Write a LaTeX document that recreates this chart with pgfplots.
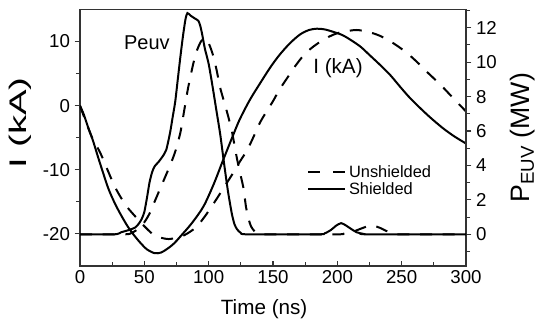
\documentclass[border=0pt]{standalone}
\usepackage{fontspec}
\setmainfont{Liberation Sans}
\usepackage{graphicx}
\usepackage{pgfplots}
\pgfplotsset{compat=1.18}
\begin{document}
\begin{tikzpicture}
\useasboundingbox (-60pt,-42pt) rectangle (342pt,199.5pt);
\pgfplotsset{common/.style={
  width=289.5pt, height=192.4pt, scale only axis,
  xmin=0, xmax=300,
  /pgf/number format/assume math mode=true,
  tick label style={font=\fontsize{14}{16}\selectfont},
  axis line style={black!80, line width=0.9pt},
  every tick/.style={black!80, line width=0.8pt},
  major tick length=4pt, minor tick length=3pt,
}}
\begin{axis}[common,
  ymin=-25, ymax=15,
  xtick={0,50,...,300}, minor xtick={25,75,...,275},
  ytick={-20,-10,0,10}, minor ytick={-15,-5,5},
  xtick pos=bottom, ytick pos=left,
  xtick align=inside, ytick align=outside,
  xlabel={Time (ns)},
  xlabel style={font=\fontsize{15.5}{18}\selectfont, at={(axis description cs:0.477,-0.114)}, anchor=north},
  ylabel={\scalebox{1.6}[1]{I (kA)}},
  ylabel style={font=\fontsize{18}{20}\selectfont, at={(axis description cs:-0.113,0.557)}, anchor=south},
  legend style={at={(0.578,0.415)}, anchor=north west, draw=none, fill=none,
    font=\fontsize{12.3}{14}\selectfont, row sep=-1.5pt},
  legend cell align=left,
  legend image code/.code={\draw[#1] (0pt,0pt) -- (27.75pt,0pt);},
]
\addplot[black, line width=1.5pt, smooth, forget plot] coordinates {
(0,0) (3,-1.4) (6,-3.2) (10,-5.4) (14,-8.0) (18,-10.5) (22,-12.9) (27,-15.2) (32,-17.1) (37,-18.8) (42,-20.2) (47,-21.4) (52,-22.4) (58,-23.0) (63,-22.9) (68,-22.3) (73,-21.5) (78,-20.4) (87,-18.3) (96,-15.7) (104,-12.2) (111,-8.6) (118,-5.1) (124,-2.2) (132,0.9) (140,3.5) (148,6.0) (155,7.9) (163,9.7) (171,11.1) (178,11.8) (184,12.0) (190,11.9) (197,11.5) (204,11.0) (210,10.3) (218,9.2) (225,7.9) (233,6.4) (241,4.8) (249,2.9) (256,1.3) (264,-0.3) (272,-1.8) (282,-3.5) (291,-4.8) (300,-5.9)
};
\addplot[black, line width=1.5pt, dash pattern=on 9pt off 8pt, smooth, forget plot] coordinates {
(0,0) (4,-2.2) (9,-4.8) (13,-6.3) (17,-7.9) (22,-10.3) (27,-12.6) (32,-14.4) (37,-15.9) (44,-17.5) (50,-18.8) (57,-20.1) (63,-20.6) (69,-20.8) (75,-20.6) (81,-20.2) (86,-19.6) (91,-18.8) (98,-17.0) (106,-14.6) (112,-12.7) (119,-10.5) (124,-8.8) (130,-6.9) (135,-4.8) (140,-2.6) (145,-0.9) (150,0.7) (155,2.5) (161,4.3) (167,6.1) (174,7.9) (180,9.0) (187,10.0) (194,10.8) (200,11.3) (207,11.6) (215,11.8) (224,11.5) (233,10.9) (243,9.8) (253,8.4) (262,6.8) (270,5.2) (280,3.3) (289,1.4) (300,-0.9)
};
\addlegendimage{black, line width=1.5pt, dash pattern=on 9pt off 9.5pt}
\addlegendentry{Unshielded}
\addlegendimage{black, line width=1.5pt}
\addlegendentry{Shielded}
\node[font=\fontsize{15}{18}\selectfont] at (axis cs:52,9.8) {Peuv};
\node[font=\fontsize{15.5}{18}\selectfont] at (axis cs:200.5,5.9) {I (kA)};
\end{axis}
\begin{axis}[common,
  axis x line=none, axis y line*=right,
  ymin=-1.84, ymax=13.06,
  ytick={0,2,...,12}, minor ytick={-1,1,3,...,13},
  ytick align=outside,
  ylabel={P$_{\mathrm{EUV}}$ (MW)},
  ylabel style={font=\fontsize{20}{22}\selectfont, at={(axis description cs:1.1026,0.5)}, anchor=north},
]
\addplot[black, line width=1.5pt, smooth, tension=0.4] coordinates {
(0,0) (27,0) (32,0.12) (38,0.25) (43,0.4) (46,0.65) (48,0.9) (50,1.3) (52,2.1) (54,3.0) (56,3.6) (58,3.95) (61,4.2) (64,4.5) (67,4.9) (70,5.9) (72,6.8) (74,7.7) (76,9.0) (78,10.3) (80,11.5) (82,12.5) (83.5,12.85) (86,12.7) (89,12.55) (92,12.4) (93.5,12.1) (95,11.6) (97,10.8) (100,9.9) (103,8.6) (106,7.2) (109,5.8) (112,4.1) (115,2.5) (118,1.2) (120,0.6) (122,0.3) (125,0.08) (130,0) (185,0) (190,0.05) (195,0.25) (199,0.5) (203,0.65) (207,0.5) (211,0.3) (215,0.12) (220,0.03) (225,0) (300,0)
};
\addplot[black, line width=1.5pt, dash pattern=on 9pt off 8pt, smooth, tension=0.4] coordinates {
(0,0) (35,0) (40,0.08) (45,0.3) (50,0.7) (54,1.2) (58,1.9) (62,2.6) (66,3.3) (70,4.0) (74,4.8) (78,5.9) (81,7.2) (84,8.5) (88,9.9) (91,10.7) (94,11.2) (97,11.4) (100,11.1) (103,10.5) (106,9.6) (109,8.5) (112,7.7) (115,6.9) (118,6.0) (120,5.2) (122,4.4) (124,3.7) (127,2.7) (129,1.6) (131,0.9) (133,0.45) (136,0.15) (140,0.03) (145,0) (200,0) (205,0.04) (212,0.15) (218,0.32) (224,0.48) (228,0.5) (233,0.38) (238,0.2) (243,0.06) (248,0) (300,0)
};
\end{axis}
\end{tikzpicture}
\end{document}
